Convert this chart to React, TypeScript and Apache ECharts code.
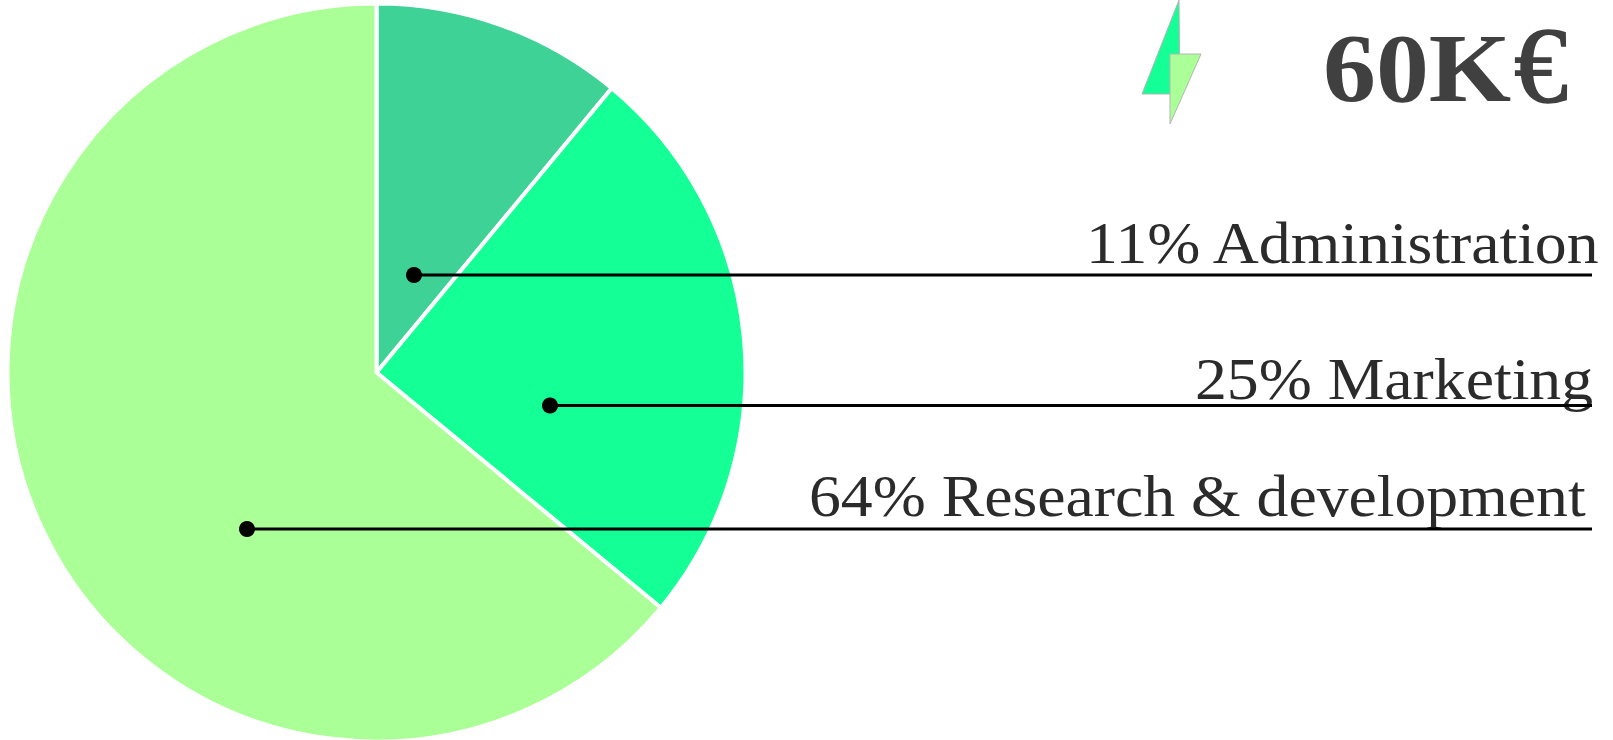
import React, { useEffect, useRef } from "react";
import * as echarts from "echarts";

const categories = ["Administration", "Marketing", "Research & development"];
const shares = [11, 25, 64];
const sliceColors = ["#3fd296", "#14ff96", "#aaff96"];
const totalValue = "60K";
const totalUnit = "€";

const SERIF = '"Liberation Serif", serif';
const leaders = [
  { dotX: 414, y: 275, textX: 1086, textY: 243 },
  { dotX: 550, y: 405.5, textX: 1195, textY: 379 },
  { dotX: 247, y: 529, textX: 809, textY: 496 },
];

export default function App() {
  const ref = useRef<HTMLDivElement>(null);
  useEffect(() => {
    const chart = echarts.init(ref.current!, null, { renderer: "svg" });
    const graphics: any[] = [];
    categories.forEach((name, i) => {
      const l = leaders[i];
      graphics.push({
        type: "line",
        z: 10,
        shape: { x1: l.dotX, y1: l.y, x2: 1592, y2: l.y },
        style: { stroke: "#000", lineWidth: 3 },
      });
      graphics.push({
        type: "circle",
        z: 11,
        shape: { cx: l.dotX, cy: l.y, r: 8 },
        style: { fill: "#000" },
      });
      graphics.push({
        type: "text",
        z: 9,
        x: l.textX,
        y: l.textY,
        scaleX: 1.08,
        style: {
          text: `${shares[i]}% ${name}`,
          font: `59px ${SERIF}`,
          fill: "#2b2b2b",
          textAlign: "left",
          textVerticalAlign: "middle",
        },
      });
    });
    graphics.push({
      type: "polygon",
      z: 5,
      shape: { points: [[1179, 0], [1180, 94], [1142, 94]] },
      style: { fill: "#14ff96", stroke: "#b5b5b5", lineWidth: 1 },
    });
    graphics.push({
      type: "polygon",
      z: 6,
      shape: { points: [[1170, 54], [1201, 54], [1170, 124]] },
      style: { fill: "#aaff96", stroke: "#b5b5b5", lineWidth: 1 },
    });
    graphics.push({
      type: "text",
      z: 5,
      x: 1323,
      y: 68,
      scaleX: 1.08,
      style: {
        text: totalValue,
        font: `bold 98px ${SERIF}`,
        fill: "#404040",
        textAlign: "left",
        textVerticalAlign: "middle",
      },
    });
    graphics.push({
      type: "text",
      z: 5,
      x: 1514,
      y: 65,
      style: {
        text: totalUnit,
        font: `108px ${SERIF}`,
        fill: "#404040",
        stroke: "#404040",
        lineWidth: 1.5,
        textAlign: "left",
        textVerticalAlign: "middle",
      },
    });
    chart.setOption({
      animation: false,
      backgroundColor: "#fff",
      series: [
        {
          type: "pie",
          center: [376.5, 372.5],
          radius: [0, 369],
          startAngle: 90,
          clockwise: true,
          silent: true,
          label: { show: false },
          labelLine: { show: false },
          itemStyle: { borderColor: "#fff", borderWidth: 4 },
          data: categories.map((name, i) => ({
            name,
            value: shares[i],
            itemStyle: { color: sliceColors[i] },
          })),
        },
      ],
      graphic: graphics,
    });
    return () => chart.dispose();
  }, []);
  return (
    <div
      ref={ref}
      style={{ position: "fixed", left: 0, top: 0, width: 1613, height: 740 }}
    />
  );
}
